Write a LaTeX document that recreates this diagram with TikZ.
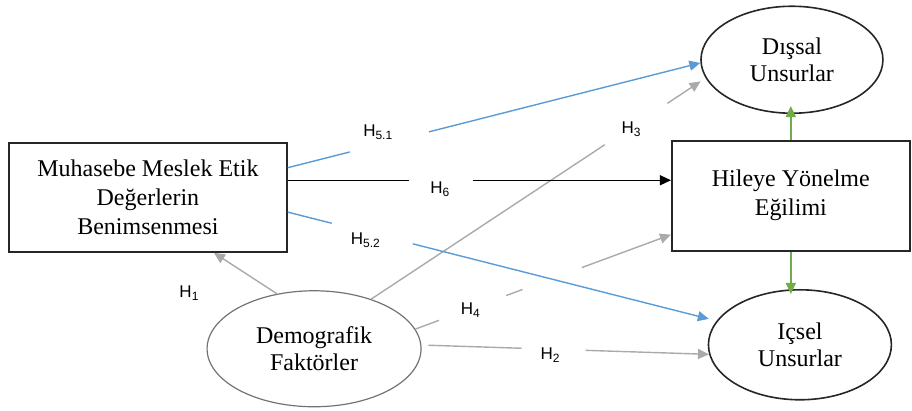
\documentclass[tikz,border=0pt]{standalone}
\usepackage{fontspec}
\setmainfont{Liberation Serif}
\newfontfamily\hlabfont{Liberation Sans}
\usetikzlibrary{shapes.geometric,arrows.meta}

\definecolor{hblue}{RGB}{91,155,213}
\definecolor{hgreen}{RGB}{112,173,71}
\definecolor{hgray}{RGB}{170,170,170}

% hypothesis label, H with a lowered index
\newcommand{\hypo}[1]{H\raisebox{-0.35ex}{\fontsize{6}{7}\selectfont #1}}

\tikzset{
  box/.style={draw=black!85, line width=0.9pt, align=center, font=\fontsize{12}{14.5}\selectfont},
  oval/.style={ellipse, draw=black!85, line width=0.8pt, align=center, inner sep=0pt, font=\fontsize{12}{13.5}\selectfont},
  link/.style={line width=0.7pt, -{Triangle[length=5.5pt,width=5pt]}},
  gap/.style={sloped, fill=white, inner sep=0pt, minimum height=4pt, minimum width=#1},
  hlab/.style={inner sep=0pt, text=black, font=\hlabfont\fontsize{8.5}{10}\selectfont},
}

\begin{document}
\begin{tikzpicture}
  \useasboundingbox (0,0) rectangle (16.03,-7.21);

  % variables
  \node[box, minimum width=139pt, minimum height=54.5pt] (mmeb) at (2.60,-3.47) {Muhasebe Meslek Etik\\Değerlerin\\Benimsenmesi};
  \node[box, minimum width=119pt, minimum height=55pt] (hile) at (13.90,-3.44) {Hileye Yönelme\\Eğilimi};
  \node[oval, minimum width=91pt, minimum height=53.5pt] (dissal) at (13.92,-1.05) {Dışsal\\Unsurlar};
  \node[oval, minimum width=91.5pt, minimum height=55pt] (icsel) at (14.06,-6.06) {Içsel\\Unsurlar};
  \node[oval, draw=black!55, line width=0.6pt, minimum width=107pt, minimum height=58pt] (demo) at (5.52,-6.13) {Demografik\\Faktörler};

  % demographic paths
  \draw[link, hgray] (demo.124) -- node[hlab, pos=0.5, xshift=-28.25pt, yshift=-10pt] (h1) {\hypo{1}} (mmeb.-40);
  \draw[link, hgray, shorten >=3pt] (demo.41) -- node[gap=37.4pt, pos=0.792] {} node[hlab, pos=0.777, yshift=-0.8pt] (h3) {\hypo{3}} (dissal.192);
  \draw[link, hgray] (demo.11) -- node[gap=35.7pt, pos=0.224] {} node[gap=31.5pt, pos=0.535] {} node[hlab, pos=0.215, yshift=-0.5pt] (h4) {\hypo{4}} (hile.198);
  \draw[link, hgray, shorten <=3.5pt] (demo.2) -- node[gap=32pt, pos=0.46] {} node[hlab, pos=0.447, yshift=-2.9pt] (h2) {\hypo{2}} (icsel.186);

  % main path
  \draw[link, black] (mmeb.7) -- node[gap=32pt, pos=0.40] {} node[hlab, pos=0.397, yshift=-4.5pt] (h6) {\hypo{6}} (mmeb.7 -| hile.west);

  % ethics to both sides
  \draw[link, hblue] (mmeb.12) -- node[gap=40.8pt, pos=0.246] {} node[hlab, pos=0.218, yshift=6.5pt] (h51) {\hypo{5.1}} (dissal.182);
  \draw[link, hblue, shorten >=4pt] (mmeb.-6) -- node[gap=41.7pt, pos=0.197] {} node[hlab, pos=0.181, yshift=-4.1pt] (h52) {\hypo{5.2}} (icsel.164);

  % fraud tendency up and down
  \draw[link, hgreen, shorten >=-4pt] (hile.north) -- (hile.north |- dissal.south);
  \draw[link, hgreen, shorten >=-2.5pt] (hile.south) -- (hile.south |- icsel.north);
\end{tikzpicture}
\end{document}
